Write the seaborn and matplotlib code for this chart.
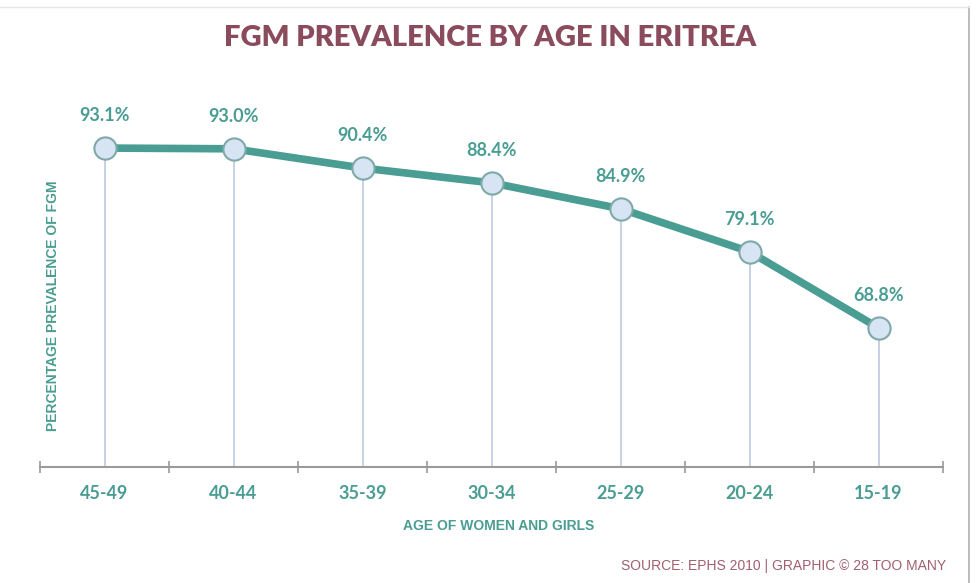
import pandas as pd
import numpy as np
import matplotlib.pyplot as plt
import seaborn as sns
from matplotlib.lines import Line2D
from matplotlib.ticker import FixedLocator

sns.set_style('white')
plt.rcParams['font.family'] = ['Lato', 'DejaVu Sans']

ages = ['45-49', '40-44', '35-39', '30-34', '25-29', '20-24', '15-19']
prevalence = [93.1, 93.0, 90.4, 88.4, 84.9, 79.1, 68.8]
labels = ['93.1%', '93.0%', '90.4%', '88.4%', '84.9%', '79.1%', '68.8%']

teal = '#4a9d92'
plum = '#8a4b5d'

df = pd.DataFrame({'age': ages, 'prevalence': prevalence})

fig = plt.figure(figsize=(9.76, 5.83), dpi=100)
ax = fig.add_axes([40 / 976, 1 - 467 / 583, 903 / 976, 370 / 583])

pos = np.arange(len(ages))

# drop lines from each point to the baseline
ax.vlines(pos, 50, df['prevalence'], color='#bccbdf', lw=1.2, zorder=1)

sns.lineplot(data=df, x='age', y='prevalence', ax=ax, color=teal, lw=5.5,
             sort=False, zorder=2)
ax.plot(pos, df['prevalence'], ls='none', marker='o', ms=16,
        mfc='#d6e4f4', mec='#7fa9a8', mew=1.5, zorder=3)

for x, y, t in zip(pos, prevalence, labels):
    ax.annotate(t, (x, y), xytext=(0, 17), textcoords='offset points',
                ha='center', va='bottom', fontsize=13, fontweight='bold',
                color=teal)

ax.set_xlim(-0.5, len(ages) - 0.5)
ax.set_ylim(50, 100)
ax.set_yticks([])
ax.set_xticks(pos)
ax.set_xticklabels(ages, fontsize=13, fontweight='bold', color=teal)
ax.tick_params(axis='x', which='major', length=0, pad=13)
ax.xaxis.set_minor_locator(FixedLocator(np.arange(-0.5, len(ages), 1.0)))
ax.tick_params(axis='x', which='minor', length=9, direction='inout',
               color='#9a9a9a', width=1.2, bottom=True)
ax.set_xlabel('')
ax.set_ylabel('')

for s in ['top', 'right', 'left']:
    ax.spines[s].set_visible(False)
ax.spines['bottom'].set_color('#9a9a9a')
ax.spines['bottom'].set_linewidth(1.5)

fig.text(490 / 976, 1 - 38 / 583, 'FGM PREVALENCE BY AGE IN ERITREA',
         ha='center', va='center', fontsize=21, fontweight='heavy',
         color=plum)
fig.text(499 / 976, 1 - 526 / 583, 'AGE OF WOMEN AND GIRLS',
         ha='center', va='center', fontsize=10, fontweight='bold',
         color=teal, family=['Liberation Sans'])
fig.text(53 / 976, 1 - 306 / 583, 'PERCENTAGE PREVALENCE OF FGM',
         ha='center', va='center', rotation=90, fontsize=10,
         fontweight='bold', color=teal, family=['Liberation Sans'])
fig.text(946 / 976, 1 - 566 / 583, 'SOURCE: EPHS 2010 | GRAPHIC © 28 TOO MANY',
         ha='right', va='center', fontsize=10, color='#a0606e',
         family=['Liberation Sans'])

# frame edges of the graphic
fig.add_artist(Line2D([969 / 976, 969 / 976], [0, 1 - 7 / 583],
                      color='#b0b0b0', lw=1.2))
fig.add_artist(Line2D([0, 969 / 976], [1 - 7 / 583, 1 - 7 / 583],
                      color='#e6e6e6', lw=1))

fig.savefig('out.png', dpi=100)
